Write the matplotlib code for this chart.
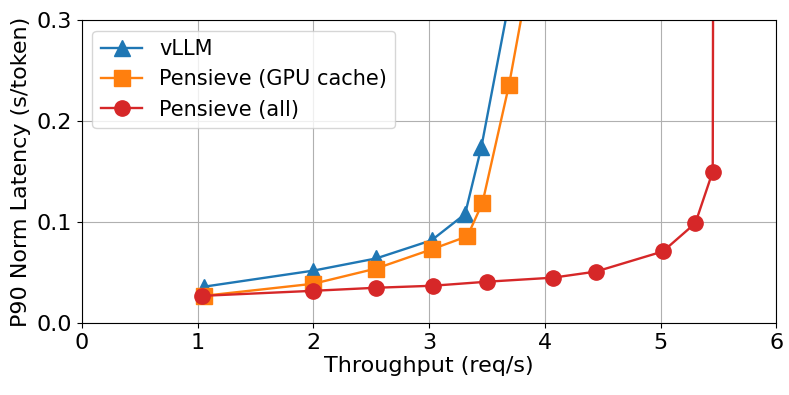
import numpy as np
import matplotlib.pyplot as plt

# throughput (req/s) vs P90 normalized latency (s/token)
vllm_x = [1.05, 2.0, 2.54, 3.02, 3.31, 3.45, 3.9]
vllm_y = [0.036, 0.052, 0.064, 0.082, 0.108, 0.174, 0.444]

gpu_x = [1.05, 2.0, 2.54, 3.02, 3.33, 3.46, 3.69, 4.0]
gpu_y = [0.027, 0.039, 0.054, 0.073, 0.086, 0.119, 0.236, 0.43]

all_x = [1.04, 2.0, 2.54, 3.03, 3.50, 4.07, 4.44, 5.02, 5.30, 5.45, 5.465]
all_y = [0.027, 0.032, 0.035, 0.037, 0.041, 0.045, 0.051, 0.071, 0.099, 0.150, 1.0]

plt.rcParams['font.size'] = 16
fig = plt.figure(figsize=(7.89, 3.95), dpi=100)
ax = fig.add_axes([0.104, 0.182, 0.880, 0.767])

ax.plot(vllm_x, vllm_y, marker='^', markersize=11, linewidth=1.7, color='tab:blue', label='vLLM')
ax.plot(gpu_x, gpu_y, marker='s', markersize=11, linewidth=1.7, color='tab:orange', label='Pensieve (GPU cache)')
ax.plot(all_x, all_y, marker='o', markersize=11, linewidth=1.7, color='tab:red', label='Pensieve (all)')

ax.set_xlim(0, 6)
ax.set_ylim(0, 0.3)
ax.set_xticks([0, 1, 2, 3, 4, 5, 6])
ax.set_yticks([0.0, 0.1, 0.2, 0.3])
ax.grid(True, color='#b0b0b0', linewidth=0.8)
ax.set_axisbelow(True)
ax.set_xlabel('Throughput (req/s)', labelpad=2)
ax.set_ylabel('P90 Norm Latency (s/token)')
ax.legend(loc='upper left', fontsize=15)

fig.savefig('out.png', dpi=100)
